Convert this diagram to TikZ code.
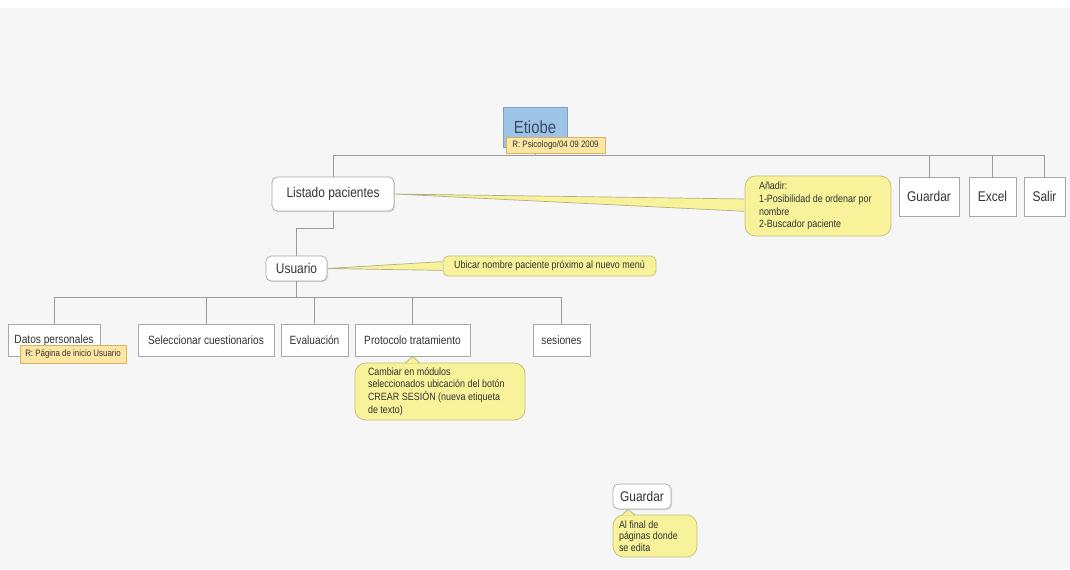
\documentclass[tikz,border=0pt]{standalone}
\usepackage{fontspec}
\setmainfont{Liberation Sans}[FakeStretch=0.85]
\usetikzlibrary{positioning, shapes, calc, shadows}

\definecolor{bgcol}{HTML}{F6F6F6}
\definecolor{linecol}{HTML}{9A9A9A}
\definecolor{boxline}{HTML}{A8A8A8}
\definecolor{notefill}{HTML}{F8F29A}
\definecolor{noteline}{HTML}{C4BD78}
\definecolor{tagfill}{HTML}{FCE6A4}
\definecolor{tagline}{HTML}{D6B266}
\definecolor{rootfill}{HTML}{9DC3E6}
\definecolor{rootline}{HTML}{7FA0C4}
\definecolor{roottext}{HTML}{3B4A66}
\definecolor{labeltext}{HTML}{333333}

\begin{document}
\begin{tikzpicture}[x=0.02cm, y=-0.02cm]
  % Define styles for nodes
  \tikzset{
    rootnode/.style={rectangle, draw=rootline, fill=rootfill, text=roottext, minimum width=1.28cm, minimum height=0.8cm, inner sep=0pt, font=\fontsize{10}{12}\selectfont},
    boxshadow/.style={drop shadow={shadow xshift=0.6pt, shadow yshift=-0.6pt, fill=black, opacity=0.12}},
    menunode/.style={rectangle, draw=boxline, fill=white, text=labeltext, minimum height=0.78cm, inner sep=0pt, font=\fontsize{8}{9.6}\selectfont, boxshadow},
    roundnode/.style={menunode, rounded corners=3pt},
    subnode/.style={menunode, minimum height=0.64cm, font=\fontsize{6.8}{8}\selectfont},
    tagnode/.style={rectangle, draw=tagline, fill=tagfill, text=labeltext, inner sep=0pt, minimum height=0.31cm, font=\fontsize{5.3}{6}\selectfont},
    notenode/.style={rectangle, rounded corners=6pt, draw=noteline, fill=notefill, text=labeltext, align=flush left, inner ysep=2pt, font=\fontsize{6}{7.2}\selectfont},
    edge/.style={draw=linecol, line width=0.5pt},
    wedge/.style={fill=notefill, draw=noteline!60!linecol, line width=0.4pt}
  }

  % Background
  \fill[bgcol] (0,0) rectangle (1070,569);
  \fill[white] (0,0) rectangle (1070,8);

  % Main nodes
  \node[rootnode] (etiobe) at (535,127) {Etiobe};
  \node[roundnode, minimum width=2.44cm, minimum height=0.68cm] (listado) at (333,194) {Listado pacientes};
  \node[menunode, minimum width=1.2cm] (guardar) at (929,196.5) {Guardar};
  \node[menunode, minimum width=0.94cm] (excel) at (992.5,196.5) {Excel};
  \node[menunode, minimum width=0.82cm] (salir) at (1044.5,196.5) {Salir};

  \node[roundnode, minimum width=1.22cm, minimum height=0.5cm] (usuario) at (296.5,268.5) {Usuario};

  \node[subnode, minimum width=1.84cm] (datos) at (54,340) {Datos personales};
  \node[subnode, minimum width=2.72cm] (selec) at (206,340) {Seleccionar cuestionarios};
  \node[subnode, minimum width=1.34cm] (evalua) at (314.5,340) {Evaluación};
  \node[subnode, minimum width=2.3cm] (proto) at (412.5,340) {Protocolo tratamiento};
  \node[subnode, minimum width=1.14cm] (sesiones) at (561.5,340) {sesiones};

  \node[roundnode, minimum width=1.16cm, minimum height=0.5cm] (guardarpie) at (642,496.5) {Guardar};

  % Notes
  \node[notenode, text width=2.36cm, inner xsep=0.28cm, minimum height=1.2cm] (notelistado) at (818,206) {Añadir:\\1-Posibilidad de ordenar por\\nombre\\2-Buscador paciente};
  \node[notenode, rounded corners=3pt, minimum width=4.26cm, minimum height=0.4cm, inner sep=0pt] (noteusuario) at (549.5,266) {Ubicar nombre paciente próximo al nuevo menú};
  \node[notenode, text width=2.88cm, inner xsep=0.26cm, minimum height=1.14cm] (noteproto) at (440,391.5) {Cambiar en módulos\\seleccionados ubicación del botón\\CREAR SESIÓN (nueva etiqueta\\de texto)};
  \node[notenode, text width=1.44cm, inner xsep=0.12cm, minimum height=0.84cm, font=\fontsize{6}{6.6}\selectfont] (noteguardar) at (655,536) {Al final de\\páginas donde\\se edita};

  % Draw the edges connecting the nodes
  \coordinate (topbus) at (535,155);
  \draw[edge] (etiobe.south) -- (topbus);
  \draw[edge] (topbus) -| (listado.north);
  \draw[edge] (topbus) -| (guardar.north);
  \draw[edge] (topbus) -| (excel.north);
  \draw[edge] (topbus) -| (salir.north);
  \draw[edge] (listado.south) -- ++(0,17) -| (usuario.north);

  \coordinate (subbus) at (296.5,297);
  \draw[edge] (usuario.south) -- (subbus);
  \draw[edge] (subbus) -| (datos.north);
  \draw[edge] (subbus) -| (selec.north);
  \draw[edge] (subbus) -| (evalua.north);
  \draw[edge] (subbus) -| (proto.north);
  \draw[edge] (subbus) -| (sesiones.north);

  % Callout pointers
  \fill[notefill] (listado.east) -- ([xshift=-0.25pt, yshift=4pt]notelistado.west) -- ([xshift=-0.25pt, yshift=-3pt]notelistado.west) -- cycle;
  \draw[wedge, fill=none] ([xshift=-0.25pt, yshift=4pt]notelistado.west) -- (listado.east) -- ([xshift=-0.25pt, yshift=-3pt]notelistado.west);
  \fill[notefill] (usuario.east) -- ([xshift=-0.25pt, yshift=2.5pt]noteusuario.west) -- ([xshift=-0.25pt, yshift=-2.5pt]noteusuario.west) -- cycle;
  \draw[wedge, fill=none] ([xshift=-0.25pt, yshift=2.5pt]noteusuario.west) -- (usuario.east) -- ([xshift=-0.25pt, yshift=-2.5pt]noteusuario.west);
  \fill[notefill] ($(proto.south)+(-7,6.7)$) -- (proto.south) -- ($(proto.south)+(7,6.7)$) -- cycle;
  \draw[wedge, fill=none] ($(proto.south)+(-7,6.7)$) -- (proto.south) -- ($(proto.south)+(7,6.7)$);
  \fill[notefill] ($(guardarpie.south)+(-20,5.7)$) -- ($(guardarpie.south)+(-14,0)$) -- ($(guardarpie.south)+(-7,5.7)$) -- cycle;
  \draw[wedge, fill=none] ($(guardarpie.south)+(-20,5.7)$) -- ($(guardarpie.south)+(-14,0)$) -- ($(guardarpie.south)+(-7,5.7)$);

  % Add annotations next to the nodes
  \node[tagnode, minimum width=1.98cm] (tagetiobe) at (555.5,145.5) {R: Psicologo/04 09 2009};
  \node[tagnode, minimum width=2.12cm, minimum height=0.36cm] (tagdatos) at (73,354) {R: Página de inicio Usuario};
\end{tikzpicture}
\end{document}
